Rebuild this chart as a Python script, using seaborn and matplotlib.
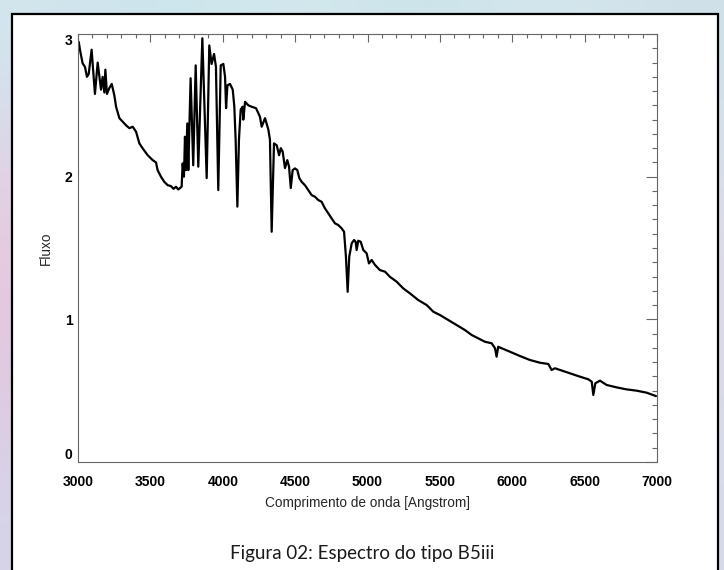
import numpy as np
import pandas as pd
import matplotlib
matplotlib.use("Agg")
import matplotlib.pyplot as plt
import seaborn as sns
from matplotlib.patches import Rectangle
from matplotlib.ticker import MultipleLocator
from matplotlib.colors import to_rgb

# Spectrum of a B5 III star: wavelength [Angstrom] and flux
wavelength = [
    3005, 3014, 3032, 3048, 3062, 3074, 3094, 3117, 3136, 3159,
    3170, 3182, 3189, 3200, 3216, 3233, 3251, 3263, 3286, 3309,
    3332, 3355, 3378, 3401, 3424, 3447, 3481, 3516, 3539, 3550,
    3573, 3596, 3620, 3642, 3660, 3677, 3693, 3716, 3723, 3732,
    3739, 3746, 3755, 3762, 3778, 3796, 3813, 3831, 3859, 3889,
    3907, 3923, 3940, 3953, 3969, 3986, 4004, 4016, 4023, 4032,
    4050, 4069, 4080, 4089, 4101, 4112, 4124, 4137, 4142, 4154,
    4177, 4200, 4230, 4257, 4269, 4292, 4315, 4326, 4338, 4354,
    4373, 4389, 4401, 4414, 4430, 4446, 4458, 4470, 4483, 4499,
    4515, 4529, 4545, 4568, 4591, 4614, 4637, 4660, 4683, 4706,
    4729, 4752, 4775, 4798, 4821, 4838, 4851, 4863, 4874, 4891,
    4907, 4918, 4925, 4936, 4953, 4971, 4994, 5010, 5029, 5052,
    5075, 5086, 5121, 5155, 5201, 5247, 5293, 5351, 5409, 5455,
    5501, 5558, 5616, 5673, 5720, 5765, 5811, 5858, 5881, 5892,
    5903, 5927, 5984, 6053, 6122, 6191, 6249, 6272, 6295, 6330,
    6399, 6468, 6525, 6549, 6560, 6574, 6606, 6652, 6721, 6790,
    6859, 6928, 6993,
]
flux = [
    2.945, 2.887, 2.794, 2.770, 2.700, 2.720, 2.890, 2.580, 2.800, 2.610,
    2.700, 2.590, 2.750, 2.580, 2.620, 2.650, 2.570, 2.490, 2.410, 2.385,
    2.360, 2.340, 2.350, 2.315, 2.233, 2.198, 2.151, 2.116, 2.100, 2.046,
    2.000, 1.964, 1.940, 1.934, 1.915, 1.929, 1.910, 1.930, 2.093, 2.000,
    2.280, 2.046, 2.373, 2.046, 2.690, 2.080, 2.780, 2.070, 2.970, 1.990,
    2.920, 2.790, 2.860, 2.770, 1.906, 2.780, 2.790, 2.700, 2.480, 2.640,
    2.650, 2.610, 2.490, 2.260, 1.790, 2.260, 2.470, 2.490, 2.400, 2.525,
    2.500, 2.490, 2.480, 2.420, 2.350, 2.410, 2.330, 2.260, 1.614, 2.233,
    2.220, 2.150, 2.200, 2.175, 2.060, 2.116, 2.070, 1.920, 2.046, 2.058,
    2.046, 1.990, 1.964, 1.940, 1.906, 1.871, 1.859, 1.836, 1.824, 1.778,
    1.743, 1.708, 1.673, 1.661, 1.638, 1.614, 1.440, 1.193, 1.440, 1.533,
    1.556, 1.544, 1.486, 1.551, 1.544, 1.486, 1.463, 1.392, 1.416, 1.381,
    1.357, 1.345, 1.334, 1.298, 1.264, 1.217, 1.182, 1.135, 1.100, 1.053,
    1.030, 0.995, 0.960, 0.925, 0.890, 0.867, 0.843, 0.832, 0.797, 0.738,
    0.808, 0.797, 0.773, 0.743, 0.715, 0.696, 0.687, 0.645, 0.657, 0.645,
    0.622, 0.598, 0.580, 0.563, 0.470, 0.552, 0.570, 0.540, 0.523, 0.509,
    0.500, 0.486, 0.462,
]

x_ticks = [3000, 3500, 4000, 4500, 5000, 5500, 6000, 6500, 7000]
y_ticks = [0, 1, 2, 3]
x_label = "Comprimento de onda [Angstrom]"
y_label = "Fluxo"
caption = "Figura 02: Espectro do tipo B5iii"

sns.set_theme(style="white")
plt.rcParams["font.family"] = ["Liberation Sans", "DejaVu Sans"]

W, H = 724, 570
fig = plt.figure(figsize=(W / 100, H / 100), dpi=100)

# Soft pastel backdrop behind the white panel
backdrop = [
    ["#d2e6ee", "#cae4ec", "#d4eaee", "#c9e1e9", "#d6e8ee", "#cfe0e9"],
    ["#e0d2e2", "#dde9f0", "#e4eef2", "#dfecf0", "#e2ebf0", "#d8dee9"],
    ["#e8c6da", "#e6e6ee", "#eceef2", "#e6eaf0", "#e4e6ee", "#ddd7e6"],
    ["#dccbe2", "#e2e0ec", "#e8eaf0", "#e4e8ee", "#e2e4ee", "#d8dae8"],
    ["#d6d4ea", "#dcdcec", "#e2e4ee", "#e0e4ee", "#dee0ec", "#d6dae8"],
]
bg_img = np.array([[to_rgb(c) for c in row] for row in backdrop])
bg = fig.add_axes([0, 0, 1, 1], zorder=0)
bg.imshow(bg_img, aspect="auto", interpolation="bicubic", extent=[0, 1, 0, 1])
bg.set_axis_off()

# White panel with a black frame
panel = Rectangle((12 / W, -0.05), 706 / W, (H - 14) / H + 0.05,
                  transform=fig.transFigure, facecolor="white",
                  edgecolor="black", linewidth=1.6, zorder=1)
fig.patches.append(panel)

ax = fig.add_axes([78 / W, (H - 462) / H, 579 / W, 428 / H], zorder=2)
ax.patch.set_alpha(0)

df = pd.DataFrame({"wavelength": wavelength, "flux": flux})
sns.lineplot(data=df, x="wavelength", y="flux", ax=ax, color="black",
             linewidth=1.6, estimator=None, sort=False)

ax.set_xlim(3000, 7000)
ax.set_ylim(0, 3)
ax.xaxis.set_minor_locator(MultipleLocator(100))
ax.yaxis.set_minor_locator(MultipleLocator(0.1))
ax.set_xticks(x_ticks)
ax.set_xticklabels([str(t) for t in x_ticks], fontweight="bold", fontsize=10)
ax.set_yticks(y_ticks)
ylabels = ax.set_yticklabels([str(t) for t in y_ticks], fontweight="bold", fontsize=10)
ylabels[0].set_va("bottom")
ylabels[-1].set_va("top")

tick_col = "#666666"
ax.tick_params(which="both", direction="in", top=True, right=True,
               color=tick_col, width=0.8, labelcolor="black")
ax.tick_params(axis="x", which="major", length=5.8, pad=9)
ax.tick_params(axis="x", which="minor", length=2.9)
ax.tick_params(axis="y", which="major", length=8, pad=4)
ax.tick_params(axis="y", which="minor", length=3.6)
for sp in ax.spines.values():
    sp.set_color(tick_col)
    sp.set_linewidth(0.8)
    sp.set_visible(True)

ax.set_xlabel(x_label, fontsize=9.8, va="center")
ax.xaxis.set_label_coords(0.5, (462 - 503) / 428)
ax.set_ylabel(y_label, fontsize=9.8, va="center")
ax.yaxis.set_label_coords((46 - 78) / 579, 0.5)

fig.text(362 / W, 1 - 553 / H, caption, ha="center", va="center",
         fontsize=13.5, family=["Lato", "DejaVu Sans"], color="#1a1a1a",
         zorder=3)

fig.savefig("out.png", dpi=100)
